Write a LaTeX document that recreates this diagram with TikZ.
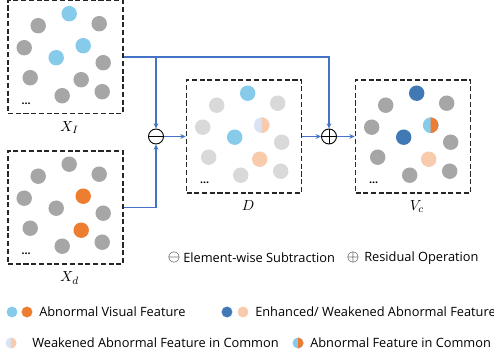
\documentclass[tikz,border=0pt]{standalone}
\usepackage{fontspec}
\newfontfamily\legendfont{Open Sans}
\usetikzlibrary{arrows.meta,positioning}

\definecolor{featgray}{HTML}{A6A6A6}
\definecolor{fadegray}{HTML}{D9D9D9}
\definecolor{skyblue}{HTML}{86CBEA}
\definecolor{featorange}{HTML}{ED7D31}
\definecolor{deepblue}{HTML}{4179B5}
\definecolor{peach}{HTML}{F8CBAD}
\definecolor{lavender}{HTML}{DAE3F3}
\definecolor{linkblue}{HTML}{4472C4}

% dot layout inside every feature map (offsets from the top left corner)
\def\dotxs{{62,31,92,17,76,49,96,23,74,55,95}}
\def\dotys{{14,26,24,48,46,58,63,78,80,96,92}}

\tikzset{
  featbox/.style={draw=black!85, line width=1.2pt, dash pattern=on 3.8pt off 2pt,
    minimum width=86.25pt, minimum height=84.75pt, inner sep=0pt},
  link/.style={draw=linkblue, line width=0.9pt, -{Stealth[length=4pt,width=3.6pt]}},
  opnode/.style={circle, draw, line width=0.7pt, minimum size=11.25pt, inner sep=0pt},
  maplabel/.style={font=\fontsize{11}{13}\selectfont, inner sep=0pt, xshift=3pt},
  ellipsis/.style={font=\legendfont\bfseries\fontsize{8}{8}\selectfont, inner sep=0pt},
  legend/.style={font=\legendfont\fontsize{9.6}{11}\selectfont, anchor=west, inner sep=0pt},
  legendsym/.style={font=\fontsize{12}{12}\selectfont, inner sep=0pt},
}

% #1 box node, #2 colours of the eleven dots
\newcommand{\featuredots}[2]{%
  \begin{scope}[shift={(#1.north west)}]
    \foreach \col [count=\i from 0] in {#2} {
      \pgfmathsetmacro{\px}{\dotxs[\i]}
      \pgfmathsetmacro{\py}{\dotys[\i]}
      \fill[\col] (\px,\py) circle (5.8pt);
    }
    \node[ellipsis] at (19,104) {...};
  \end{scope}}

% #1 centre, #2 radius, #3 left colour, #4 right colour
\newcommand{\halfdot}[4]{%
  \fill[#3] #1 circle (#2);
  \fill[#4] #1 ++(0pt,-#2) arc[start angle=-90, end angle=90, radius=#2] -- cycle;}

\begin{document}
\begin{tikzpicture}[x=0.75pt, y=-0.75pt]
  \useasboundingbox (0,0) rectangle (494,363);

  % feature maps
  \node[featbox] (XI) at (65.5,57) {};
  \node[featbox] (Xd) at (65.5,207.5) {};
  \node[featbox] (D)  at (244,136.5) {};
  \node[featbox] (Vc) at (413,136.5) {};

  \featuredots{XI}{skyblue,featgray,featgray,featgray,skyblue,skyblue,featgray,featgray,featgray,featgray,featgray}
  \featuredots{Xd}{featgray,featgray,featgray,featgray,featorange,featgray,featgray,featgray,featorange,featgray,featgray}
  \featuredots{D}{skyblue,fadegray,fadegray,fadegray,lavender,skyblue,fadegray,fadegray,peach,fadegray,fadegray}
  \featuredots{Vc}{deepblue,featgray,featgray,featgray,skyblue,deepblue,featgray,featgray,peach,featgray,featgray}
  \begin{scope}[shift={(D.north west)}]
    \halfdot{(76,46)}{5.8pt}{lavender}{peach}
  \end{scope}
  \begin{scope}[shift={(Vc.north west)}]
    \halfdot{(76,46)}{5.8pt}{skyblue}{featorange}
  \end{scope}

  \node[maplabel, below=5pt of XI] {$X_I$};
  \node[maplabel, below=5pt of Xd] {$X_d$};
  \node[maplabel, below=5pt of D]  {$D$};
  \node[maplabel, below=5pt of Vc] {$V_c$};

  % subtraction and residual operators
  \node[opnode] (om) at (156,136.5) {};
  \draw[line width=0.7pt] (om.west) -- (om.east);
  \node[opnode] (op) at (329,136.5) {};
  \draw[line width=0.7pt] (op.west) -- (op.east) (op.north) -- (op.south);

  \draw[link] (XI.east) -| (om.north);
  \draw[link] (XI.east) -| (op.north);
  \draw[link] (Xd.east) -| (om.south);
  \draw[link] (om.east) -- (D.west);
  \draw[link] (D.east) -- (op.west);
  \draw[link] (op.east) -- (Vc.west);

  % legend
  \node[legendsym] (ssub) at (174,258) {$\ominus$};
  \node[legend] (lsub) at (183,258) {Element-wise Subtraction};
  \node[legendsym] (sres) at (353,258) {$\oplus$};
  \node[legend] (lres) at (364,258) {Residual Operation};

  \fill[skyblue] (12,312) circle (4.1pt);
  \fill[featorange] (27,312) circle (4.1pt);
  \node[legend] (lvis) at (39,312) {Abnormal Visual Feature};
  \fill[deepblue] (227,312) circle (4.1pt);
  \fill[peach] (243,312) circle (4.1pt);
  \node[legend] (lenh) at (255,312) {Enhanced/ Weakened Abnormal Feature};
  \halfdot{(11,343)}{4.1pt}{lavender}{peach}
  \node[legend] (lweak) at (32,343) {Weakened Abnormal Feature in Common};
  \halfdot{(298,343)}{4.1pt}{skyblue}{featorange}
  \node[legend] (lcom) at (310,343) {Abnormal Feature in Common};
\end{tikzpicture}
\end{document}
